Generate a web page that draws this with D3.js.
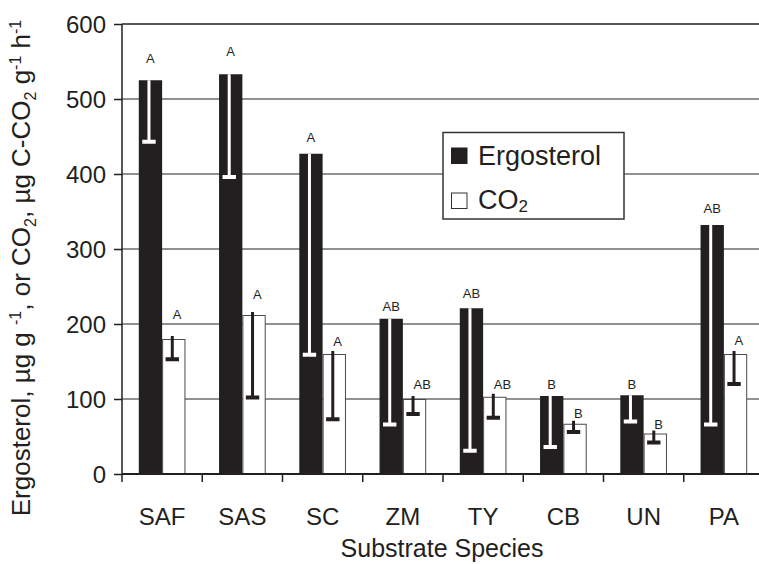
<!DOCTYPE html>
<html>
<head>
<meta charset="utf-8">
<script src="https://cdn.jsdelivr.net/npm/d3@7/dist/d3.min.js"></script>
<style>
  body { margin: 0; background: #fff; }
  figure { margin: 0; }
  text { font-family: "Liberation Sans", Arial, Helvetica, sans-serif; fill: #231f20; }
</style>
</head>
<body>
<figure id="bar"></figure>
<script>
const species = ["SAF", "SAS", "SC", "ZM", "TY", "CB", "UN", "PA"];
const yTicks = [0, 100, 200, 300, 400, 500, 600];

const ergosterol = [525, 533, 427, 207, 221, 104, 105, 332];
const ergosterolLow = [443, 396, 159, 66, 31, 36, 70, 66];
const co2 = [180, 212, 160, 100, 103, 67, 54, 160];
const co2Low = [153, 102, 73, 80, 75, 56, 42, 120];

// significance letters and the height (in y units) they sit at
const ergosterolLetters = ["A", "A", "A", "AB", "AB", "B", "B", "AB"];
const co2Letters = ["A", "A", "A", "AB", "AB", "B", "B", "A"];
const ergosterolLetterAt = [548, 557, 443, 217, 235, 113, 113, 348];
const co2LetterAt = [207, 234, 171, 114, 113, 75, 60, 172];

const width = 759, height = 564;
const dark = "#231f20";

const svg = d3.select("figure#bar")
  .append("svg")
  .attr("width", width)
  .attr("height", height);

const x0 = d3.scaleBand().domain(species).range([122, 764]).padding(0);
const x1 = d3.scaleBand().domain(["erg", "co2"])
  .range([0, x0.bandwidth()])
  .paddingInner(0)
  .paddingOuter(0.72);
const y = d3.scaleLinear().domain([0, 600]).range([474, 24]);

// gridlines
svg.append("g")
  .selectAll("line")
  .data(yTicks.filter(d => d > 0))
  .enter()
  .append("line")
  .attr("x1", x0.range()[0])
  .attr("x2", x0.range()[1])
  .attr("y1", d => y(d))
  .attr("y2", d => y(d))
  .attr("stroke", d => d === 600 ? dark : "#6d6d6d")
  .attr("stroke-width", 1.5);

const rows = species.map((s, i) => ({
  s, i,
  erg: ergosterol[i], ergLow: ergosterolLow[i],
  co2: co2[i], co2Low: co2Low[i]
}));

// ergosterol bars
svg.append("g")
  .selectAll("rect")
  .data(rows)
  .enter()
  .append("rect")
  .attr("x", d => x0(d.s) + x1("erg"))
  .attr("y", d => y(d.erg))
  .attr("width", x1.bandwidth())
  .attr("height", d => y(0) - y(d.erg))
  .attr("fill", dark);

// CO2 bars
svg.append("g")
  .selectAll("rect")
  .data(rows)
  .enter()
  .append("rect")
  .attr("x", d => x0(d.s) + x1("co2") + 0.5)
  .attr("y", d => y(d.co2) + 0.5)
  .attr("width", x1.bandwidth() - 1)
  .attr("height", d => y(0) - y(d.co2) - 0.5)
  .attr("fill", "#fff")
  .attr("stroke", "#4a4a4a")
  .attr("stroke-width", 1);

// error bars (lower only), white inside the dark bars, dark for CO2
function errorBars(key, lowKey, color, lift) {
  const g = svg.append("g");
  const cx = d => x0(d.s) + x1(key) + x1.bandwidth() / 2 - 1.5;
  g.selectAll("line")
    .data(rows)
    .enter()
    .append("line")
    .attr("x1", cx)
    .attr("x2", cx)
    .attr("y1", d => y(d[key]) - lift)
    .attr("y2", d => y(d[lowKey]))
    .attr("stroke", color)
    .attr("stroke-width", 3);
  g.selectAll("rect")
    .data(rows)
    .enter()
    .append("rect")
    .attr("x", d => cx(d) - 6.7)
    .attr("y", d => y(d[lowKey]) - 2)
    .attr("width", 13.4)
    .attr("height", 4)
    .attr("fill", color);
}
errorBars("erg", "ergLow", "#fff", 0);
errorBars("co2", "co2Low", dark, 3);

// letters
svg.append("g")
  .selectAll("text")
  .data(rows)
  .enter()
  .append("text")
  .attr("x", d => x0(d.s) + x1("erg") + x1.bandwidth() / 2)
  .attr("y", d => y(ergosterolLetterAt[d.i]))
  .attr("text-anchor", "middle")
  .attr("font-size", 13)
  .text(d => ergosterolLetters[d.i]);

svg.append("g")
  .selectAll("text")
  .data(rows)
  .enter()
  .append("text")
  .attr("x", d => x0(d.s) + x1("co2") + x1.bandwidth() / 2 - 1)
  .attr("y", d => y(co2LetterAt[d.i]))
  .attr("text-anchor", "start")
  .attr("font-size", 13)
  .text(d => co2Letters[d.i]);

// y axis
const yAxis = svg.append("g")
  .attr("transform", "translate(" + x0.range()[0] + ",0)")
  .call(d3.axisLeft(y).tickValues(yTicks).tickSize(8).tickSizeOuter(0).tickPadding(8));
yAxis.select(".domain").remove();
yAxis.selectAll("line").attr("stroke", dark).attr("stroke-width", 1.5);
yAxis.selectAll("text")
  .attr("font-size", 24)
  .attr("fill", dark)
  .attr("dy", "0.36em")
  .style("font-family", "'Liberation Sans', Arial, sans-serif");

svg.append("line")
  .attr("x1", x0.range()[0]).attr("x2", x0.range()[0])
  .attr("y1", y(600)).attr("y2", y(0) + 8)
  .attr("stroke", dark).attr("stroke-width", 1.5);

// x axis baseline and category boundary ticks
svg.append("line")
  .attr("x1", x0.range()[0]).attr("x2", x0.range()[1])
  .attr("y1", y(0)).attr("y2", y(0))
  .attr("stroke", dark).attr("stroke-width", 2);

svg.append("g")
  .selectAll("line")
  .data(species.slice(1))
  .enter()
  .append("line")
  .attr("x1", d => x0(d)).attr("x2", d => x0(d))
  .attr("y1", y(0)).attr("y2", y(0) + 8)
  .attr("stroke", dark).attr("stroke-width", 1.5);

const xAxis = svg.append("g")
  .attr("transform", "translate(0," + y(0) + ")")
  .call(d3.axisBottom(x0).tickSize(0).tickPadding(34));
xAxis.select(".domain").remove();
xAxis.selectAll("text")
  .attr("font-size", 24)
  .attr("fill", dark)
  .style("font-family", "'Liberation Sans', Arial, sans-serif");

// axis titles
svg.append("text")
  .attr("x", (x0.range()[0] + x0.range()[1]) / 2 - 1)
  .attr("y", 557)
  .attr("text-anchor", "middle")
  .attr("font-size", 25)
  .text("Substrate Species");

const yTitle = svg.append("text")
  .attr("transform", "translate(30,268) rotate(-90)")
  .attr("text-anchor", "middle")
  .attr("font-size", 26);
const parts = [
  ["Ergosterol, \u00b5g g ", 0], ["-1", -1], [", or CO", 0], ["2", 1],
  [", \u00b5g C-CO", 0], ["2", 1], [" g", 0], ["-1", -1], [" h", 0], ["-1", -1]
];
let shift = 0;
parts.forEach(([t, p]) => {
  const target = p === -1 ? -9 : p === 1 ? 6 : 0;
  yTitle.append("tspan")
    .attr("dy", target - shift)
    .attr("font-size", p === 0 ? 26 : 16)
    .text(t);
  shift = target;
});

// legend
const legend = svg.append("g");
legend.append("rect")
  .attr("x", 443).attr("y", 132.5)
  .attr("width", 181).attr("height", 86.5)
  .attr("fill", "#fff")
  .attr("stroke", "#333")
  .attr("stroke-width", 1.5);
legend.append("rect")
  .attr("x", 451).attr("y", 147.5)
  .attr("width", 16.5).attr("height", 16.5)
  .attr("fill", dark);
legend.append("text")
  .attr("x", 478).attr("y", 165)
  .attr("font-size", 27)
  .text("Ergosterol");
legend.append("rect")
  .attr("x", 451.5).attr("y", 193)
  .attr("width", 15.5).attr("height", 15.5)
  .attr("fill", "#fff")
  .attr("stroke", "#333")
  .attr("stroke-width", 1);
const co2Label = legend.append("text")
  .attr("x", 478).attr("y", 208.5)
  .attr("font-size", 27);
co2Label.append("tspan").text("CO");
co2Label.append("tspan").attr("dy", 3).attr("font-size", 17).text("2");
</script>
</body>
</html>
